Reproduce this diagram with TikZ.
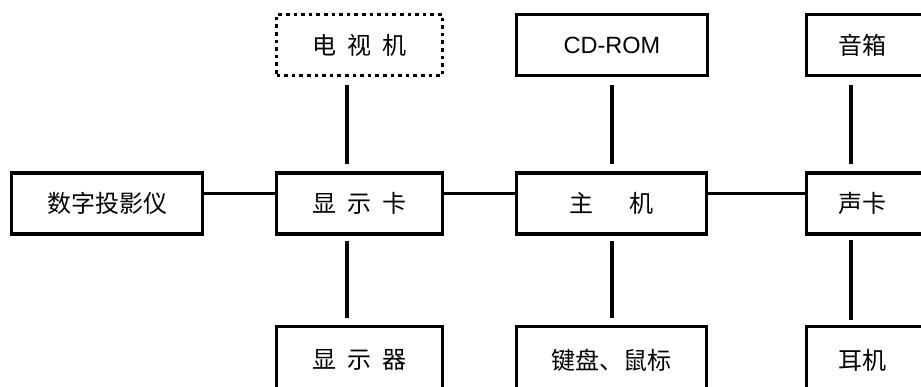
\documentclass[tikz,border=0pt]{standalone}
\usepackage{fontspec}
\setmainfont{Liberation Sans}
\newfontfamily\cjk{Noto Sans CJK SC}
\begin{document}
\begin{tikzpicture}[x=1pt,y=-1pt,
  box/.style={draw, line width=3.4pt, minimum height=61pt, inner sep=0pt,
    font=\cjk\fontsize{24}{28}\selectfont},
  lowbox/.style={box, minimum height=67pt},
  lbl/.style={inner sep=0pt, font=\cjk\fontsize{24}{28}\selectfont},
  conn/.style={line width=3.4pt},
  hconn/.style={line width=3pt}]
\useasboundingbox (0,0) rectangle (921,386);
\clip (0,0) rectangle (921,386);
% top row
\node[box, dash pattern=on 3.6pt off 4pt, minimum width=166pt] (tv) at (359.5,45) {电\hspace{11pt}视\hspace{11pt}机};
\node[box, minimum width=191pt, font=\fontsize{23.5}{28}\selectfont] (cd) at (612,45) {CD-ROM};
\node[box, minimum width=150pt, anchor=west] (spk) at (804.5,45) {};
\node[lbl] (spkt) at (862,45) {音箱};
% middle row
\node[box, minimum width=191pt] (proj) at (107,203.5) {数字投影仪};
\node[box, minimum width=166pt] (card) at (359.5,203.5) {显\hspace{11pt}示\hspace{11pt}卡};
\node[box, minimum width=190pt] (host) at (611.5,203.5) {主\hspace{36pt}机};
\node[box, minimum width=150pt, anchor=west] (snd) at (804.5,203.5) {};
\node[lbl] (sndt) at (862,203.5) {声卡};
% bottom row
\node[lowbox, minimum width=166pt] (disp) at (359.5,360) {显\hspace{11pt}示\hspace{11pt}器};
\node[lowbox, minimum width=190pt] (kb) at (611.5,360) {键盘、鼠标};
\node[lowbox, minimum width=150pt, anchor=west] (ear) at (804.5,360) {};
\node[lbl] (eart) at (862,360) {耳机};
% connector guides
\coordinate (cB) at (347,0);
\coordinate (cC) at (612,0);
\coordinate (cD) at (851,0);
\coordinate (hy) at (0,193);
% horizontal connectors
\draw[hconn] (proj.east |- hy) -- (card.west |- hy);
\draw[hconn] (card.east |- hy) -- (host.west |- hy);
\draw[hconn] (host.east |- hy) -- (snd.west |- hy);
% vertical connectors
\draw[conn, shorten <=7.5pt, shorten >=7pt] (tv.south -| cB) -- (card.north -| cB);
\draw[conn, shorten <=5pt, shorten >=6.5pt] (card.south -| cB) -- (disp.north -| cB);
\draw[conn, shorten <=7.5pt, shorten >=7pt] (cd.south -| cC) -- (host.north -| cC);
\draw[conn, shorten <=5pt, shorten >=6.5pt] (host.south -| cC) -- (kb.north -| cC);
\draw[conn, shorten <=7.5pt, shorten >=7pt] (spk.south -| cD) -- (snd.north -| cD);
\draw[conn, shorten <=4pt, shorten >=4.5pt] (snd.south -| cD) -- (ear.north -| cD);
\end{tikzpicture}
\end{document}
